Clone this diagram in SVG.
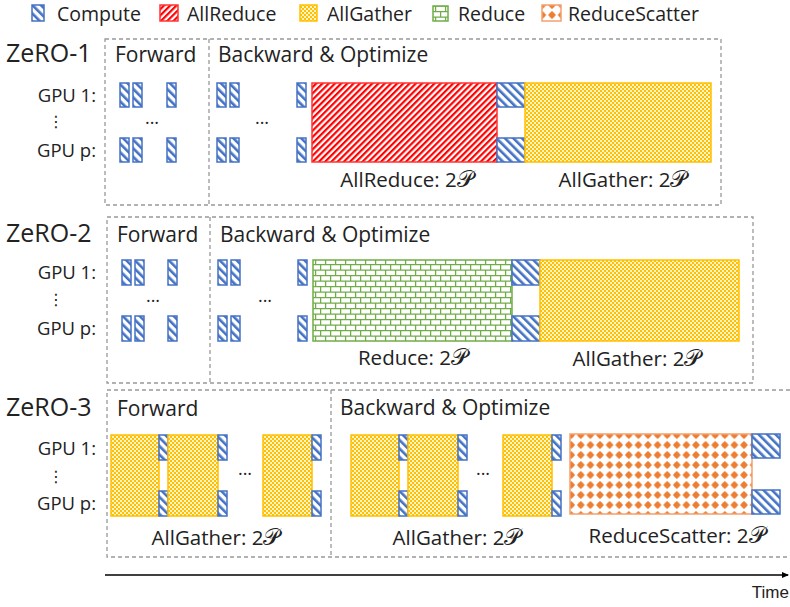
<svg xmlns="http://www.w3.org/2000/svg" width="790" height="607" viewBox="0 0 790 607">
  <defs>
    <!-- compute: blue "\" hatching -->
    <pattern id="pCompute" patternUnits="userSpaceOnUse" width="6" height="6" patternTransform="rotate(-45)">
      <rect width="6" height="6" fill="#fff"/>
      <rect width="2.6" height="6" fill="#4472C4"/>
    </pattern>
    <!-- allreduce: red "/" hatching -->
    <pattern id="pAllReduce" patternUnits="userSpaceOnUse" width="4.4" height="4.4" patternTransform="rotate(45)">
      <rect width="4.4" height="4.4" fill="#fff"/>
      <rect width="2.2" height="4.4" fill="#FF0000"/>
    </pattern>
    <!-- allgather: fine yellow checkerboard -->
    <pattern id="pAllGather" patternUnits="userSpaceOnUse" width="4" height="4">
      <rect width="4" height="4" fill="#FFC000"/>
      <rect x="0" y="0" width="2" height="2" fill="#FFF4CC"/>
      <rect x="2" y="2" width="2" height="2" fill="#FFF4CC"/>
    </pattern>
    <!-- reduce: green brick -->
    <pattern id="pReduce" patternUnits="userSpaceOnUse" width="10" height="11">
      <rect width="10" height="11" fill="#fff"/>
      <path d="M0 0.6H10M0 6.1H10M0.6 0V5.5M5.6 5.5V11" stroke="#70AD47" stroke-width="1.3" fill="none"/>
    </pattern>
    <!-- reducescatter: orange studded dots -->
    <pattern id="pReduceScatter" patternUnits="userSpaceOnUse" width="9.6" height="10">
      <rect width="9.6" height="10" fill="#fff"/>
      <circle cx="4.8" cy="5" r="2.9" fill="#ED7D31"/>
      <path d="M4.8 1.3V8.7M1.2 5H8.4" stroke="#ED7D31" stroke-width="1.5"/>
    </pattern>
    <marker id="arrow" markerWidth="8" markerHeight="8" refX="6" refY="4" orient="auto" markerUnits="userSpaceOnUse">
      <path d="M0 1L7 4L0 7Z" fill="#000"/>
    </marker>
  </defs>
  <style>
    text { font-family: "Open Sans", Lato, "Liberation Sans", sans-serif; fill: #222; }
    .title { font-size: 25px; }
    .phase { font-size: 21px; }
    .gpu { font-size: 18.5px; text-anchor: end; }
    .cap { font-size: 20.5px; text-anchor: middle; }
    .leg { font-size: 19.5px; }
    .dots { font-size: 18px; text-anchor: middle; }
    .vd { font-family: "DejaVu Sans", sans-serif; font-size: 16px; text-anchor: middle; }
    .cal { font-family: "DejaVu Serif", "Noto Sans", serif; font-size: 23px; }
    .frame { fill: none; stroke: #999; stroke-width: 1.3; stroke-dasharray: 4 3; }
    .c { fill: url(#pCompute); stroke: #4472C4; stroke-width: 1.5; }
    .ar { fill: url(#pAllReduce); stroke: #FF3333; stroke-width: 1.5; }
    .ag { fill: url(#pAllGather); stroke: #FFC000; stroke-width: 1.5; }
    .rd { fill: url(#pReduce); stroke: #70AD47; stroke-width: 1.5; }
    .rs { fill: url(#pReduceScatter); stroke: #F4A070; stroke-width: 1.5; }
  </style>

  <!-- legend -->
  <g id="legend">
    <rect class="c" x="32" y="5" width="12" height="16"/>
    <text class="leg" x="57" y="21">Compute</text>
    <rect class="ar" x="160" y="5" width="18" height="16"/>
    <text class="leg" x="187" y="21">AllReduce</text>
    <rect class="ag" x="300" y="5" width="17" height="16"/>
    <text class="leg" x="327" y="21">AllGather</text>
    <rect class="rd" x="433" y="6" width="15" height="15"/>
    <text class="leg" x="458" y="21">Reduce</text>
    <rect class="rs" x="542" y="5" width="19" height="16"/>
    <text class="leg" x="568" y="21">ReduceScatter</text>
  </g>

  <!-- ZeRO-1 -->
  <g id="zero1">
    <text class="title" x="6" y="62">ZeRO-1</text>
    <rect class="frame" x="105" y="39" width="616" height="166"/>
    <line class="frame" x1="209" y1="39" x2="209" y2="205"/>
    <text class="phase" x="115" y="62">Forward</text>
    <text class="phase" x="218" y="62">Backward &amp; Optimize</text>
    <text class="gpu" x="96" y="102">GPU 1:</text>
    <text class="vd" x="56" y="127">⋮</text>
    <text class="gpu" x="96" y="157">GPU p:</text>
    <g id="z1-fwd">
      <rect class="c" x="120" y="83" width="9" height="24"/>
      <rect class="c" x="133" y="83" width="9" height="24"/>
      <rect class="c" x="167" y="83" width="9" height="24"/>
      <rect class="c" x="120" y="138" width="9" height="24"/>
      <rect class="c" x="133" y="138" width="9" height="24"/>
      <rect class="c" x="167" y="138" width="9" height="24"/>
      <text class="dots" x="152" y="124">...</text>
    </g>
    <g id="z1-bwd">
      <rect class="c" x="217" y="83" width="9" height="24"/>
      <rect class="c" x="230" y="83" width="9" height="24"/>
      <rect class="c" x="297" y="83" width="9" height="24"/>
      <rect class="c" x="217" y="138" width="9" height="24"/>
      <rect class="c" x="230" y="138" width="9" height="24"/>
      <rect class="c" x="297" y="138" width="9" height="24"/>
      <text class="dots" x="262" y="124">...</text>
      <rect class="ar" x="312" y="83" width="185" height="79"/>
      <rect class="c" x="497" y="83" width="28" height="24"/>
      <rect class="c" x="497" y="138" width="28" height="24"/>
      <rect class="ag" x="525" y="83" width="186" height="79"/>
      <text class="cap" x="407" y="187">AllReduce: 2<tspan class="cal">𝒫</tspan></text>
      <text class="cap" x="623" y="187">AllGather: 2<tspan class="cal">𝒫</tspan></text>
    </g>
  </g>

  <!-- ZeRO-2 -->
  <g id="zero2">
    <text class="title" x="6" y="242">ZeRO-2</text>
    <rect class="frame" x="107" y="217" width="646" height="166"/>
    <line class="frame" x1="210" y1="217" x2="210" y2="383"/>
    <text class="phase" x="117" y="242">Forward</text>
    <text class="phase" x="220" y="242">Backward &amp; Optimize</text>
    <text class="gpu" x="96" y="279">GPU 1:</text>
    <text class="vd" x="56" y="305">⋮</text>
    <text class="gpu" x="96" y="335">GPU p:</text>
    <g id="z2-fwd">
      <rect class="c" x="122" y="260" width="9" height="25"/>
      <rect class="c" x="135" y="260" width="9" height="25"/>
      <rect class="c" x="168" y="260" width="9" height="25"/>
      <rect class="c" x="122" y="316" width="9" height="25"/>
      <rect class="c" x="135" y="316" width="9" height="25"/>
      <rect class="c" x="168" y="316" width="9" height="25"/>
      <text class="dots" x="153" y="302">...</text>
    </g>
    <g id="z2-bwd">
      <rect class="c" x="218" y="260" width="9" height="25"/>
      <rect class="c" x="231" y="260" width="9" height="25"/>
      <rect class="c" x="298" y="260" width="9" height="25"/>
      <rect class="c" x="218" y="316" width="9" height="25"/>
      <rect class="c" x="231" y="316" width="9" height="25"/>
      <rect class="c" x="298" y="316" width="9" height="25"/>
      <text class="dots" x="265" y="302">...</text>
      <rect class="rd" x="313" y="260" width="199" height="81"/>
      <rect class="c" x="512" y="260" width="28" height="25"/>
      <rect class="c" x="512" y="316" width="28" height="25"/>
      <rect class="ag" x="540" y="260" width="199" height="81"/>
      <text class="cap" x="413" y="365">Reduce: 2<tspan class="cal">𝒫</tspan></text>
      <text class="cap" x="637" y="366">AllGather: 2<tspan class="cal">𝒫</tspan></text>
    </g>
  </g>

  <!-- ZeRO-3 -->
  <g id="zero3">
    <text class="title" x="6" y="416">ZeRO-3</text>
    <path class="frame" d="M790 390H107V557H790"/>
    <line class="frame" x1="331" y1="390" x2="331" y2="557"/>
    <text class="phase" x="117" y="416">Forward</text>
    <text class="phase" x="340" y="415">Backward &amp; Optimize</text>
    <text class="gpu" x="96" y="455">GPU 1:</text>
    <text class="vd" x="56" y="482">⋮</text>
    <text class="gpu" x="96" y="510">GPU p:</text>
    <g id="z3-fwd">
      <rect class="ag" x="111" y="435" width="48" height="81"/>
      <rect class="c" x="159" y="435" width="9" height="25"/>
      <rect class="c" x="159" y="491" width="9" height="25"/>
      <rect class="ag" x="168" y="435" width="50" height="81"/>
      <rect class="c" x="218" y="435" width="9" height="25"/>
      <rect class="c" x="218" y="491" width="9" height="25"/>
      <text class="dots" x="245" y="475">...</text>
      <rect class="ag" x="263" y="435" width="49" height="81"/>
      <rect class="c" x="312" y="435" width="9" height="25"/>
      <rect class="c" x="312" y="491" width="9" height="25"/>
      <text class="cap" x="216" y="545">AllGather: 2<tspan class="cal">𝒫</tspan></text>
    </g>
    <g id="z3-bwd">
      <rect class="ag" x="351" y="435" width="48" height="81"/>
      <rect class="c" x="399" y="435" width="9" height="25"/>
      <rect class="c" x="399" y="491" width="9" height="25"/>
      <rect class="ag" x="408" y="435" width="50" height="81"/>
      <rect class="c" x="458" y="435" width="9" height="25"/>
      <rect class="c" x="458" y="491" width="9" height="25"/>
      <text class="dots" x="483" y="475">...</text>
      <rect class="ag" x="503" y="435" width="49" height="81"/>
      <rect class="c" x="552" y="435" width="9" height="25"/>
      <rect class="c" x="552" y="491" width="9" height="25"/>
      <rect class="rs" x="570" y="434" width="182" height="80"/>
      <rect class="c" x="752" y="434" width="28" height="24"/>
      <rect class="c" x="752" y="490" width="28" height="24"/>
      <text class="cap" x="457" y="545">AllGather: 2<tspan class="cal">𝒫</tspan></text>
      <text class="cap" x="677" y="543">ReduceScatter: 2<tspan class="cal">𝒫</tspan></text>
    </g>
  </g>

  <!-- time axis -->
  <g id="connectors">
    <line x1="105" y1="575" x2="788" y2="575" stroke="#000" stroke-width="1.5" marker-end="url(#arrow)"/>
  </g>
  <text x="789" y="598" text-anchor="end" style="font-family:'Liberation Sans',Arial,sans-serif;font-size:17px">Time</text>
</svg>
